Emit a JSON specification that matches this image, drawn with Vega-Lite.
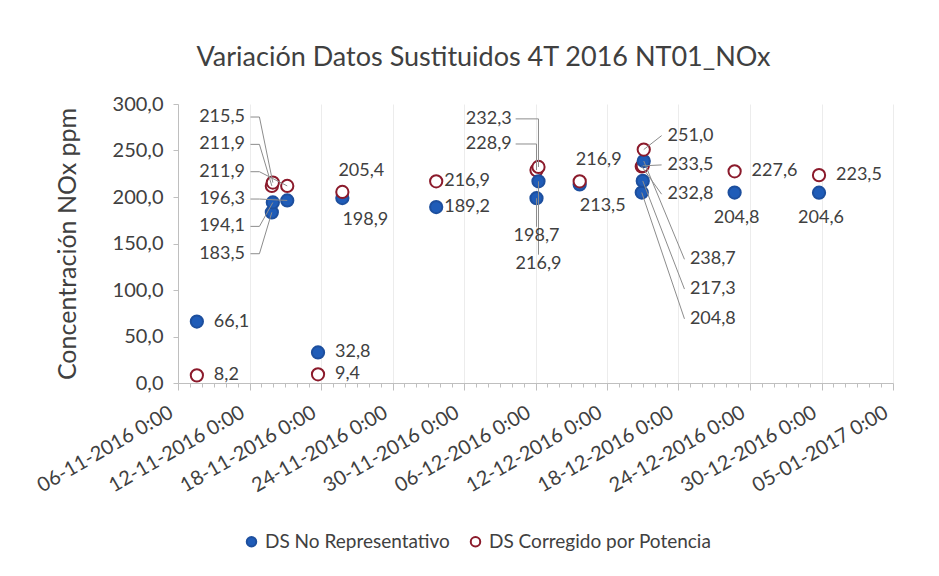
{
  "$schema": "https://vega.github.io/schema/vega-lite/v6.json",
  "autosize": {"type": "none"},
  "width": 715,
  "height": 279,
  "padding": {"left": 178, "top": 104, "right": 46, "bottom": 193},
  "background": "white",
  "config": {
    "locale": {"number": {"decimal": ",", "thousands": ".", "grouping": [3], "currency": ["", " €"]}},
    "font": "Lato",
    "view": {"stroke": null},
    "text": {"font": "Lato", "fontSize": 18, "color": "#404040"}
  },
  "title": {
    "text": "Variación Datos Sustituidos 4T 2016 NT01_NOx",
    "fontSize": 27,
    "fontWeight": "normal",
    "color": "#404040",
    "anchor": "middle",
    "frame": "group",
    "dx": -52,
    "offset": 22
  },
  "data": {
    "values": [
      {"id": 1, "fecha": "2016-11-07T14:00:00", "serie": "DS No Representativo", "valor": 66.1},
      {"id": 2, "fecha": "2016-11-07T14:00:00", "serie": "DS Corregido por Potencia", "valor": 8.2},
      {"id": 3, "fecha": "2016-11-13T21:00:00", "serie": "DS No Representativo", "valor": 183.5},
      {"id": 4, "fecha": "2016-11-13T21:00:00", "serie": "DS Corregido por Potencia", "valor": 211.9},
      {"id": 5, "fecha": "2016-11-13T23:00:00", "serie": "DS No Representativo", "valor": 194.1},
      {"id": 6, "fecha": "2016-11-13T23:00:00", "serie": "DS Corregido por Potencia", "valor": 215.5},
      {"id": 7, "fecha": "2016-11-15T04:00:00", "serie": "DS No Representativo", "valor": 196.3},
      {"id": 8, "fecha": "2016-11-15T04:00:00", "serie": "DS Corregido por Potencia", "valor": 211.9},
      {"id": 9, "fecha": "2016-11-17T18:00:00", "serie": "DS No Representativo", "valor": 32.8},
      {"id": 10, "fecha": "2016-11-17T18:00:00", "serie": "DS Corregido por Potencia", "valor": 9.4},
      {"id": 11, "fecha": "2016-11-19T19:00:00", "serie": "DS No Representativo", "valor": 198.9},
      {"id": 12, "fecha": "2016-11-19T19:00:00", "serie": "DS Corregido por Potencia", "valor": 205.4},
      {"id": 13, "fecha": "2016-11-27T16:00:00", "serie": "DS No Representativo", "valor": 189.2},
      {"id": 14, "fecha": "2016-11-27T16:00:00", "serie": "DS Corregido por Potencia", "valor": 216.9},
      {"id": 15, "fecha": "2016-12-06T02:00:00", "serie": "DS No Representativo", "valor": 198.7},
      {"id": 16, "fecha": "2016-12-06T02:00:00", "serie": "DS Corregido por Potencia", "valor": 228.9},
      {"id": 17, "fecha": "2016-12-06T06:00:00", "serie": "DS No Representativo", "valor": 216.9},
      {"id": 18, "fecha": "2016-12-06T06:00:00", "serie": "DS Corregido por Potencia", "valor": 232.3},
      {"id": 19, "fecha": "2016-12-09T17:00:00", "serie": "DS No Representativo", "valor": 213.5},
      {"id": 20, "fecha": "2016-12-09T17:00:00", "serie": "DS Corregido por Potencia", "valor": 216.9},
      {"id": 21, "fecha": "2016-12-14T22:00:00", "serie": "DS No Representativo", "valor": 204.8},
      {"id": 22, "fecha": "2016-12-14T22:00:00", "serie": "DS Corregido por Potencia", "valor": 232.8},
      {"id": 23, "fecha": "2016-12-15T00:00:00", "serie": "DS No Representativo", "valor": 217.3},
      {"id": 24, "fecha": "2016-12-15T00:00:00", "serie": "DS Corregido por Potencia", "valor": 233.5},
      {"id": 25, "fecha": "2016-12-15T02:00:00", "serie": "DS No Representativo", "valor": 238.7},
      {"id": 26, "fecha": "2016-12-15T02:00:00", "serie": "DS Corregido por Potencia", "valor": 251.0},
      {"id": 27, "fecha": "2016-12-22T17:00:00", "serie": "DS No Representativo", "valor": 204.8},
      {"id": 28, "fecha": "2016-12-22T17:00:00", "serie": "DS Corregido por Potencia", "valor": 227.6},
      {"id": 29, "fecha": "2016-12-29T19:00:00", "serie": "DS No Representativo", "valor": 204.6},
      {"id": 30, "fecha": "2016-12-29T19:00:00", "serie": "DS Corregido por Potencia", "valor": 223.5}
    ]
  },
  "layer": [
    {
      "mark": {"type": "point", "filled": true, "shape": "circle", "size": 150, "strokeWidth": 2, "opacity": 1},
      "encoding": {
        "x": {
          "field": "fecha",
          "type": "temporal",
          "scale": {"domain": [{"year": 2016, "month": 11, "date": 6}, {"year": 2017, "month": 1, "date": 5}]},
          "axis": {
            "title": null,
            "tickCount": {"interval": "day", "step": 1},
            "format": "%d-%m-%Y %-H:%M",
            "labelExpr": "round((datum.value - datetime(2016,10,6))/86400000) % 6 === 0 ? datum.label : ''",
            "labelOverlap": false,
            "labelBound": false,
            "labelFlush": false,
            "labelAngle": -30,
            "labelFontSize": 20,
            "labelColor": "#404040",
            "labelPadding": 12,
            "labelOffset": -12,
            "grid": true,
            "gridColor": "#ececec",
            "gridOpacity": {"condition": {"test": "round((datum.value - datetime(2016,10,6))/86400000) % 6 === 0", "value": 1}, "value": 0},
            "tickSize": {"condition": {"test": "round((datum.value - datetime(2016,10,6))/86400000) % 6 === 0", "value": 7}, "value": 4},
            "domainColor": "#bfbfbf",
            "tickColor": "#bfbfbf"
          }
        },
        "y": {
          "field": "valor",
          "type": "quantitative",
          "scale": {"domain": [0, 300], "nice": false},
          "axis": {
            "values": [0, 50, 100, 150, 200, 250, 300],
            "format": ".1f",
            "title": "Concentración NOx ppm",
            "titleFontSize": 25,
            "titleFontWeight": "normal",
            "titleColor": "#404040",
            "titlePadding": 32,
            "labelFontSize": 20,
            "labelColor": "#404040",
            "labelPadding": 10,
            "grid": false,
            "domainColor": "#bfbfbf",
            "tickColor": "#bfbfbf",
            "tickSize": 5
          }
        },
        "fill": {
          "field": "serie",
          "type": "nominal",
          "scale": {"domain": ["DS No Representativo", "DS Corregido por Potencia"], "range": ["#1f5cb8", "#ffffff"]},
          "legend": {"orient": "none", "legendX": 64, "legendY": 428, "direction": "horizontal", "title": null, "labelFontSize": 19, "labelColor": "#404040", "labelOffset": 4, "symbolSize": 90, "symbolStrokeWidth": 2, "columnPadding": 16, "labelLimit": 400}
        },
        "stroke": {
          "field": "serie",
          "type": "nominal",
          "scale": {"domain": ["DS No Representativo", "DS Corregido por Potencia"], "range": ["#1d4f9e", "#8b1a2b"]},
          "legend": {"orient": "none", "legendX": 64, "legendY": 428, "direction": "horizontal", "title": null, "labelFontSize": 19, "labelColor": "#404040", "labelOffset": 4, "symbolSize": 90, "symbolStrokeWidth": 2, "columnPadding": 16, "labelLimit": 400}
        }
      }
    },
    {
      "transform": [{"filter": "indexof([1,2,9,10,28,30], datum.id) >= 0"}],
      "mark": {"type": "text", "align": "left", "baseline": "middle", "dx": 17},
      "encoding": {
        "x": {"field": "fecha", "type": "temporal"},
        "y": {"field": "valor", "type": "quantitative"},
        "text": {"field": "valor", "type": "quantitative", "format": ".1f"}
      }
    },
    {
      "transform": [{"filter": "indexof([13,14], datum.id) >= 0"}],
      "mark": {"type": "text", "align": "left", "baseline": "middle", "dx": 8},
      "encoding": {
        "x": {"field": "fecha", "type": "temporal"},
        "y": {"field": "valor", "type": "quantitative"},
        "text": {"field": "valor", "type": "quantitative", "format": ".1f"}
      }
    },
    {
      "transform": [{"filter": "indexof([12,20], datum.id) >= 0"}],
      "mark": {"type": "text", "align": "center", "baseline": "middle", "dx": 19, "dy": -21},
      "encoding": {
        "x": {"field": "fecha", "type": "temporal"},
        "y": {"field": "valor", "type": "quantitative"},
        "text": {"field": "valor", "type": "quantitative", "format": ".1f"}
      }
    },
    {
      "transform": [{"filter": "indexof([11,19], datum.id) >= 0"}],
      "mark": {"type": "text", "align": "center", "baseline": "middle", "dx": 23, "dy": 22},
      "encoding": {
        "x": {"field": "fecha", "type": "temporal"},
        "y": {"field": "valor", "type": "quantitative"},
        "text": {"field": "valor", "type": "quantitative", "format": ".1f"}
      }
    },
    {
      "transform": [{"filter": "indexof([27,29], datum.id) >= 0"}],
      "mark": {"type": "text", "align": "center", "baseline": "middle", "dx": 2, "dy": 25},
      "encoding": {
        "x": {"field": "fecha", "type": "temporal"},
        "y": {"field": "valor", "type": "quantitative"},
        "text": {"field": "valor", "type": "quantitative", "format": ".1f"}
      }
    },
    {
      "transform": [
        {"filter": "datum.id >= 3 && datum.id <= 8"},
        {"window": [{"op": "row_number", "as": "rn"}], "sort": [{"field": "valor", "order": "descending"}]},
        {"calculate": "286 - (datum.rn - 1) * 29.4", "as": "ly"},
        {"calculate": "datetime(2016,10,11,15)", "as": "lx"},
        {"calculate": "datetime(2016,10,12,2)", "as": "lr"},
        {"calculate": "datetime(2016,10,12,20)", "as": "lr2"}
      ],
      "layer": [
        {
          "mark": {"type": "rule", "color": "#8c8c8c", "strokeWidth": 1},
          "encoding": {
            "x": {"field": "lr", "type": "temporal"},
            "x2": {"field": "lr2"},
            "y": {"field": "ly", "type": "quantitative"},
            "y2": {"field": "ly"}
          }
        },
        {
          "mark": {"type": "rule", "color": "#8c8c8c", "strokeWidth": 1},
          "encoding": {
            "x": {"field": "lr2", "type": "temporal"},
            "x2": {"field": "fecha"},
            "y": {"field": "ly", "type": "quantitative"},
            "y2": {"field": "valor"}
          }
        },
        {
          "mark": {"type": "text", "align": "right", "baseline": "middle"},
          "encoding": {
            "x": {"field": "lx", "type": "temporal"},
            "y": {"field": "ly", "type": "quantitative"},
            "text": {"field": "valor", "type": "quantitative", "format": ".1f"}
          }
        }
      ]
    },
    {
      "transform": [
        {"filter": "datum.id == 16 || datum.id == 18"},
        {"window": [{"op": "row_number", "as": "rn"}], "sort": [{"field": "valor", "order": "descending"}]},
        {"calculate": "284 - (datum.rn - 1) * 27", "as": "ly"},
        {"calculate": "datetime(2016,11,4,0)", "as": "lx"},
        {"calculate": "datetime(2016,11,4,8)", "as": "lr"}
      ],
      "layer": [
        {
          "mark": {"type": "rule", "color": "#8c8c8c", "strokeWidth": 1},
          "encoding": {
            "x": {"field": "lr", "type": "temporal"},
            "x2": {"field": "fecha"},
            "y": {"field": "ly", "type": "quantitative"},
            "y2": {"field": "ly"}
          }
        },
        {
          "mark": {"type": "rule", "color": "#8c8c8c", "strokeWidth": 1},
          "encoding": {
            "x": {"field": "fecha", "type": "temporal"},
            "y": {"field": "ly", "type": "quantitative"},
            "y2": {"field": "valor"}
          }
        },
        {
          "mark": {"type": "text", "align": "right", "baseline": "middle"},
          "encoding": {
            "x": {"field": "lx", "type": "temporal"},
            "y": {"field": "ly", "type": "quantitative"},
            "text": {"field": "valor", "type": "quantitative", "format": ".1f"}
          }
        }
      ]
    },
    {
      "transform": [
        {"filter": "datum.id == 15 || datum.id == 17"},
        {"window": [{"op": "row_number", "as": "rn"}], "sort": [{"field": "valor", "order": "ascending"}]},
        {"calculate": "158 - (datum.rn - 1) * 30", "as": "ly"},
        {"calculate": "datum.ly + 10", "as": "lt"}
      ],
      "layer": [
        {
          "mark": {"type": "rule", "color": "#8c8c8c", "strokeWidth": 1},
          "encoding": {
            "x": {"field": "fecha", "type": "temporal"},
            "y": {"field": "lt", "type": "quantitative"},
            "y2": {"field": "valor"}
          }
        },
        {
          "mark": {"type": "text", "align": "center", "baseline": "middle"},
          "encoding": {
            "x": {"field": "fecha", "type": "temporal"},
            "y": {"field": "ly", "type": "quantitative"},
            "text": {"field": "valor", "type": "quantitative", "format": ".1f"}
          }
        }
      ]
    },
    {
      "transform": [
        {"filter": "datum.id == 22 || datum.id == 24 || datum.id == 26"},
        {"window": [{"op": "row_number", "as": "rn"}], "sort": [{"field": "valor", "order": "descending"}]},
        {"calculate": "266 - (datum.rn - 1) * 31.5", "as": "ly"},
        {"calculate": "datetime(2016,11,17,2)", "as": "lx"},
        {"calculate": "datetime(2016,11,16,14)", "as": "lr"}
      ],
      "layer": [
        {
          "mark": {"type": "rule", "color": "#8c8c8c", "strokeWidth": 1},
          "encoding": {
            "x": {"field": "lr", "type": "temporal"},
            "x2": {"field": "fecha"},
            "y": {"field": "ly", "type": "quantitative"},
            "y2": {"field": "valor"}
          }
        },
        {
          "mark": {"type": "text", "align": "left", "baseline": "middle"},
          "encoding": {
            "x": {"field": "lx", "type": "temporal"},
            "y": {"field": "ly", "type": "quantitative"},
            "text": {"field": "valor", "type": "quantitative", "format": ".1f"}
          }
        }
      ]
    },
    {
      "transform": [
        {"filter": "datum.id == 21 || datum.id == 23 || datum.id == 25"},
        {"window": [{"op": "row_number", "as": "rn"}], "sort": [{"field": "valor", "order": "descending"}]},
        {"calculate": "133 - (datum.rn - 1) * 32", "as": "ly"},
        {"calculate": "datetime(2016,11,18,23)", "as": "lx"},
        {"calculate": "datetime(2016,11,18,12)", "as": "lr"}
      ],
      "layer": [
        {
          "mark": {"type": "rule", "color": "#8c8c8c", "strokeWidth": 1},
          "encoding": {
            "x": {"field": "lr", "type": "temporal"},
            "x2": {"field": "fecha"},
            "y": {"field": "ly", "type": "quantitative"},
            "y2": {"field": "valor"}
          }
        },
        {
          "mark": {"type": "text", "align": "left", "baseline": "middle"},
          "encoding": {
            "x": {"field": "lx", "type": "temporal"},
            "y": {"field": "ly", "type": "quantitative"},
            "text": {"field": "valor", "type": "quantitative", "format": ".1f"}
          }
        }
      ]
    }
  ]
}
